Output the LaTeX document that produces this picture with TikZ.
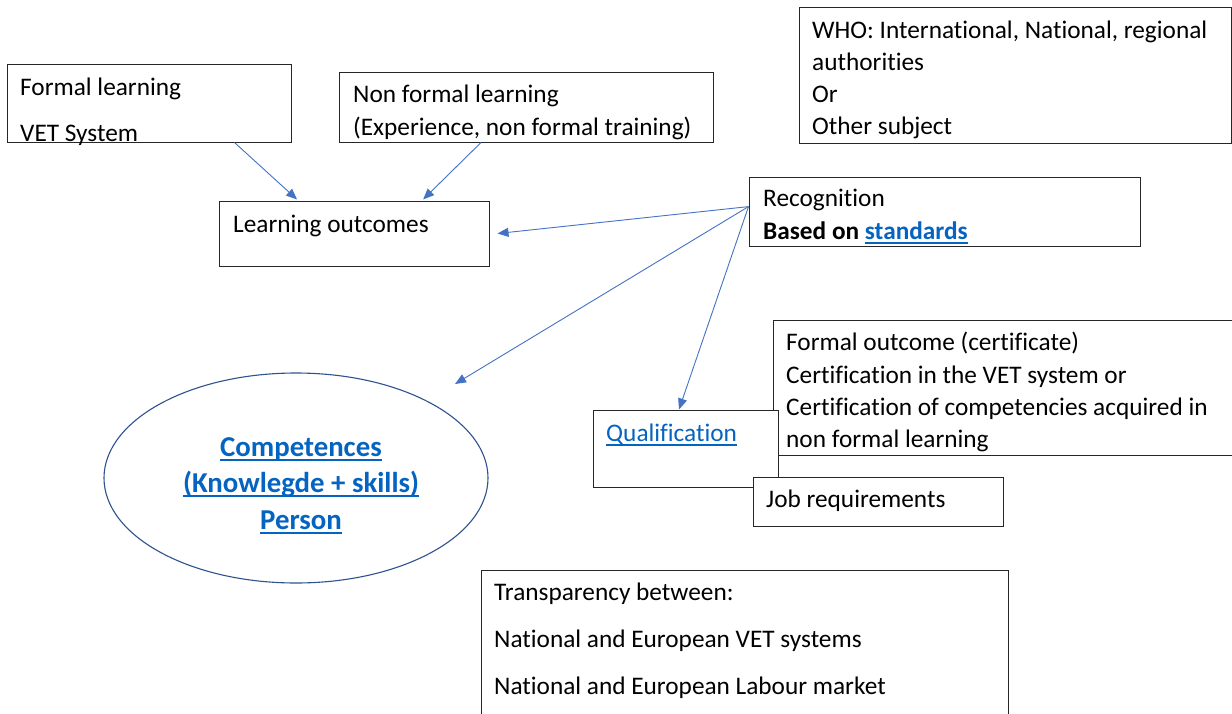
\documentclass[tikz,border=0pt]{standalone}
\usepackage{fontspec}
\setmainfont{Carlito}[Ligatures={NoCommon}]
\usetikzlibrary{arrows.meta,shapes.geometric,calc}
\definecolor{linkblue}{HTML}{0563C1}
\definecolor{arrowblue}{HTML}{4472C4}
\definecolor{ellblue}{HTML}{2F528F}
\newcommand\myul[1]{\setbox0\hbox{#1}\rlap{\rule[-4.5pt]{\wd0}{1.6pt}}\box0}
\begin{document}
\begin{tikzpicture}[x=1pt,y=-1pt,
  box/.style={draw=black!85,line width=1pt,fill=white,rectangle,inner sep=0pt},
  txt/.style={anchor=base west,inner sep=0pt,font=\fontsize{25.3}{30}\selectfont},
  ctxt/.style={anchor=base,inner sep=0pt,font=\fontsize{28.8}{34}\selectfont\bfseries,text=linkblue},
  conn/.style={draw=arrowblue,line width=0.9pt,-{Triangle[length=11pt,width=9pt]}}]
\useasboundingbox (0,0) rectangle (1232,713);
\fill[white] (0,0) rectangle (1232,713);

% boxes
\node[box,minimum width=284pt,minimum height=78pt] (fl) at (149,103) {};
\node[box,minimum width=374pt,minimum height=70pt] (nf) at (526,107) {};
\node[box,minimum width=432pt,minimum height=136pt] (who) at (1015,75) {};
\node[box,minimum width=270pt,minimum height=65pt] (lo) at (354,233.5) {};
\node[box,minimum width=391pt,minimum height=69pt] (rec) at (944.5,211.5) {};
\node[box,minimum width=470pt,minimum height=135pt] (fo) at (1008,387.5) {};
\node[box,minimum width=185pt,minimum height=77pt] (qual) at (685.5,448.5) {};
\node[box,minimum width=250pt,minimum height=49pt] (job) at (878,501.5) {};
\node[box,minimum width=527pt,minimum height=150pt] (tr) at (744.5,645) {};
\node[draw=ellblue,line width=1.1pt,ellipse,minimum width=384pt,minimum height=210pt,inner sep=0pt] (comp) at (296,478) {};

% texts
\node[txt] (fl1) at (20,95) {Formal learning};
\node[txt] (fl2) at (20,141) {VET System};
\node[txt] (nf1) at (353,102) {Non formal learning};
\node[txt] (nf2) at (353,135) {(Experience, non formal training)};
\node[txt] (who1) at (812,38) {WHO: International, National, regional};
\node[txt] (who2) at (812,70) {authorities};
\node[txt] (who3) at (812,102) {Or};
\node[txt] (who4) at (812,134) {Other subject};
\node[txt] (lo1) at (233,232) {Learning outcomes};
\node[txt] (rec1) at (763,206) {Recognition};
\node[txt] (rec2) at (763,239) {\textbf{Based on} \textcolor{linkblue}{\textbf{\myul{standards}}}};
\node[txt] (fo1) at (786,350) {Formal outcome (certificate)};
\node[txt] (fo2) at (786,383) {Certification in the VET system or};
\node[txt] (fo3) at (786,415) {Certification of competencies acquired in};
\node[txt] (fo4) at (786,447) {non formal learning};
\node[txt,text=linkblue] (q1) at (606,441) {\myul{Qualification}};
\node[txt] (job1) at (766,507) {Job requirements};
\node[txt] (tr1) at (494,600) {Transparency between:};
\node[txt] (tr2) at (494,647) {National and European VET systems};
\node[txt] (tr3) at (494,694) {National and European Labour market};
\node[ctxt] (c1) at (301,456) {\myul{Competences}};
\node[ctxt] (c2) at (301,492) {\myul{(Knowlegde + skills)}};
\node[ctxt] (c3) at (301,529) {\myul{Person}};

% connector ends
\coordinate (flout) at ($(fl.south west)!0.8!(fl.south east)$);
\coordinate (nfout) at ($(nf.south west)!0.38!(nf.south east)$);
\coordinate (loin1) at ($(lo.north west)!0.29!(lo.north east)+(0,-1)$);
\coordinate (loin2) at ($(lo.north west)!0.755!(lo.north east)+(0,-1)$);
\coordinate (recout) at ($(rec.north west)!0.43!(rec.south west)$);
\coordinate (loin3) at ($(lo.east)+(8,0)$);
\coordinate (compin) at ($(comp.center)+(159,-94)$);
\coordinate (qualin) at ($(qual.north west)!0.465!(qual.north east)$);

\draw[conn] (flout) -- (loin1);
\draw[conn] (nfout) -- (loin2);
\draw[conn] (recout) -- (loin3);
\draw[conn] (recout) -- (compin);
\draw[conn] (recout) -- (qualin);
\end{tikzpicture}
\end{document}
